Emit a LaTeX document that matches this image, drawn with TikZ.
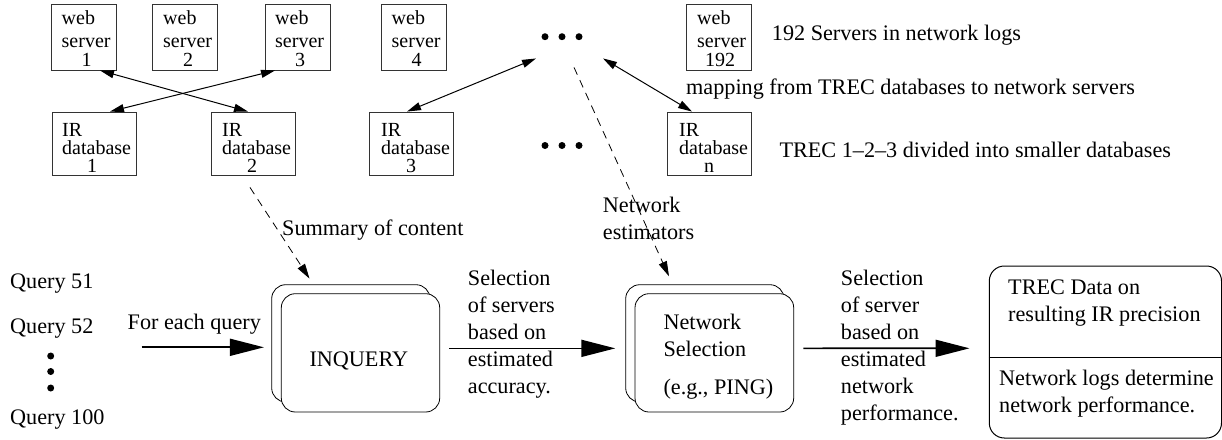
\documentclass[tikz,border=0pt]{standalone}
\usepackage{fontspec}
\setmainfont{Liberation Serif}
\usetikzlibrary{arrows.meta}
\tikzset{
  x=1pt,y=-1pt,
  smallbox/.style={draw=black!80,line width=0.9pt,rectangle,inner sep=0pt},
  webbox/.style={smallbox,minimum width=65pt,minimum height=66pt},
  irbox/.style={smallbox,minimum width=84pt,minimum height=63pt},
  boxtxt/.style={inner sep=0pt,align=left,anchor=base west,font=\fontsize{20}{19}\selectfont},
  txt/.style={inner sep=0pt,align=left,anchor=base west,font=\fontsize{22.2}{27}\selectfont},
  thin arrow/.style={line width=1pt,{Triangle[length=14pt,width=8pt]}-{Triangle[length=14pt,width=8pt]}},
  dash arrow/.style={line width=0.8pt,dash pattern=on 8pt off 6pt,-{Triangle[length=15pt,width=8.5pt]}},
  big arrow/.style={line width=1.7pt,-{Triangle[length=34pt,width=17pt]}},
  pagebox/.style={draw,line width=0.8pt,rounded corners=14pt,rectangle,inner sep=0pt,fill=white},
  dotnode/.style={circle,fill=black,inner sep=0pt,minimum size=7pt},
}
\newcommand{\webunit}[5]{%
  \node[webbox] (#1) at (#2,37) {};
  \node[boxtxt] (#1txt) at (#3,66.7) {web\\[4.5pt]server\\\hspace*{#4pt}#5};
}
\newcommand{\irunit}[5]{%
  \node[irbox] (#1) at (#2,143.5) {};
  \node[boxtxt,font=\fontsize{20}{18}\selectfont] (#1txt) at (#3,172) {IR\\database\\\hspace*{#4pt}#5};
}
\begin{document}
\begin{tikzpicture}
\path[use as bounding box] (0,0) rectangle (1222,439);
\webunit{webA}{83.5}{61.5}{20}{1}
\webunit{webB}{185}{163}{20}{2}
\webunit{webC}{297.5}{275}{20}{3}
\webunit{webD}{413.5}{391.5}{20}{4}
\webunit{webN}{718.5}{697}{8}{192}
\irunit{irA}{94.5}{62}{25}{1}
\irunit{irB}{253}{222}{25}{2}
\irunit{irC}{411.5}{381}{25}{3}
\irunit{irN}{709.5}{679}{25}{n}
\foreach \n/\x in {a/545,b/562,c/579}{
  \node[dotnode] (top\n) at (\x,36.7) {};
  \node[dotnode] (mid\n) at (\x,145.5) {};
}
\node[txt] (lblA) at (771.7,40) {192 Servers in network logs};
\node[txt] (lblB) at (686,94) {mapping from TREC databases to network servers};
\node[txt] (lblC) at (779.3,157.7) {TREC 1–2–3 divided into smaller databases};
% double arrows
\draw[thin arrow] ([xshift=16.5pt]webA.south) -- ([xshift=-5pt]irB.north);
\draw[thin arrow] ([xshift=-22.5pt]webC.south) -- ([xshift=15.5pt]irA.north);
\draw[thin arrow] ([xshift=-4.5pt]irC.north) -- ([xshift=-9pt,yshift=-18.05pt]topa.south);
\draw[thin arrow] ([xshift=-17.5pt]irN.north) -- ([xshift=24pt,yshift=-18.05pt]topc.south);
% lower boxes
\node[pagebox,minimum width=158.3pt,minimum height=117.3pt] (inqB) at (350.85,343.35) {};
\node[pagebox,minimum width=158.4pt,minimum height=118.3pt] (inqF) at (360.5,352.85) {};
\node[txt,anchor=base west] (inq) at (309.3,366) {INQUERY};
\node[pagebox,minimum width=158.3pt,minimum height=117.3pt] (netB) at (704.85,343.35) {};
\node[pagebox,minimum width=158.7pt,minimum height=118.3pt] (netF) at (714.35,352.85) {};
\node[txt] (nettxt) at (663.3,356.7) {Network\\Selection};
\node[txt] (nettxtb) at (663.3,394) {(e.g., PING)};
\node[pagebox,rounded corners=15pt,line width=1pt,minimum width=232.2pt,minimum height=172pt] (res) at (1105.4,352) {};
\path (res.west |- 0,357) coordinate (divL) (res.east |- 0,357) coordinate (divR);
\draw[line width=1pt] (divL) -- (divR);
\node[txt] (restop) at (1008,321) {TREC Data on\\resulting IR precision};
\node[txt] (resbot) at (999,412) {Network logs determine\\network performance.};
% dashed
\draw[dash arrow] ([xshift=-3pt,yshift=-12pt]irB.south) -- ([xshift=-41.35pt,yshift=5.7pt]inqB.north);
\draw[dash arrow] ([xshift=-5pt,yshift=-27pt]topc.south) -- ([xshift=-35.85pt,yshift=8pt]netB.north);
% query texts
\node[txt] (q51) at (10,288) {Query 51};
\node[txt] (q52) at (10,333) {Query 52};
\node[txt] (q100) at (10,424) {Query 100};
\foreach \n/\y in {a/356,b/371.5,c/388}{\node[dotnode] (qd\n) at (50.7,\y) {};}
\coordinate (inS) at (141.7,347.3);
\node[txt] (foreach) at (127.5,329) {For each query};
\draw[big arrow] (inS) -- ([xshift=-7.4pt,yshift=-3.95pt]inqB.west);
\draw[big arrow] ([xshift=9.3pt,yshift=4.5pt]inqF.east) -- ([xshift=-10pt,yshift=-5pt]netB.west);
\draw[big arrow] ([xshift=9.3pt,yshift=4.5pt]netF.east) -- ([xshift=-19.3pt,yshift=3.7pt]res.west);
\node[txt] (selA) at (467.7,393) {Selection\\of servers\\based on\\estimated\\accuracy.};
\node[txt] (selB) at (840.7,420) {Selection\\of server\\based on\\estimated\\network\\performance.};
\node[txt] (summ) at (282,235) {Summary of content};
\node[txt] (estim) at (602.7,239) {Network\\estimators};
\end{tikzpicture}
\end{document}
